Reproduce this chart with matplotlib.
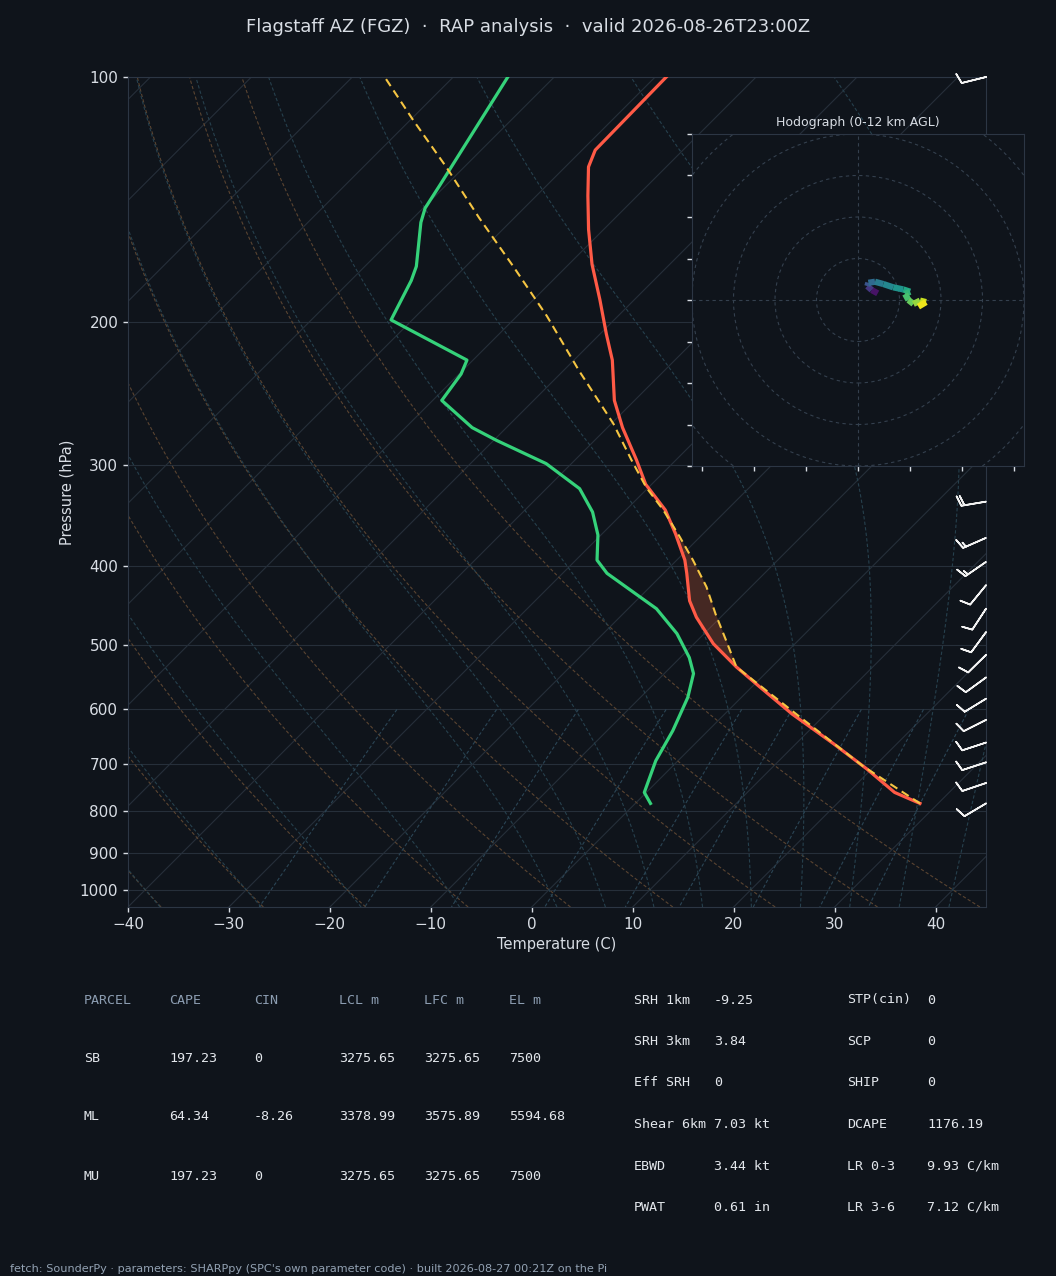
import matplotlib
matplotlib.use("Agg")

import matplotlib.pyplot as plt
import numpy as np
from matplotlib.collections import LineCollection
from matplotlib.ticker import NullLocator

plt.rcParams.update({"font.family": "DejaVu Sans", "font.size": 11})

BG = "#0f141b"
TXT = "#d8dde4"
DIM = "#8c9db1"
SPINE = "#2c3644"
GRID = "#262f3a"
DRY = "#5a4431"
MOIST = "#26404d"
MIXR = "#2b4555"
RED = "#ff5a46"
GREEN = "#35d27a"
YELLOW = "#f5c542"

W, H = 1056, 1276

# ---- sounding ----
temp_p = [783, 759, 710, 661, 608, 563, 532, 498, 462, 441, 408, 393, 365, 341,
          317, 296, 270, 250, 223, 207, 188, 170, 154, 140, 129, 123, 100]
temp_c = [28.2, 24.6, 19.5, 13.7, 6.7, 0.8, -3.5, -8.1, -12.4, -14.7, -17.7, -19.2,
          -22.7, -26.1, -30.6, -33.9, -38.5, -42.0, -46.2, -49.4, -53.4, -57.7,
          -61.5, -64.9, -67.7, -68.7, -68.9]

dewp_p = [783, 759, 694, 637, 580, 542, 518, 484, 451, 408, 393, 366, 343, 321,
          299, 280, 270, 250, 232, 223, 199, 178, 171, 151, 145, 136, 100]
dewp_c = [1.5, -0.2, -2.2, -3.5, -5.3, -7.1, -9.1, -12.7, -17.2, -25.6, -27.9, -30.3,
          -33.1, -36.7, -42.5, -49.7, -53.4, -59.1, -59.8, -60.6, -72.1, -74.0,
          -74.9, -78.8, -79.8, -80.6, -84.6]

parcel_p = [783, 704, 608, 532, 494, 458, 424, 393, 368, 341, 320, 296, 267, 230,
            197, 171, 149, 129, 113, 100]
parcel_c = [28.2, 18.8, 7.1, -3.5, -7.1, -10.8, -14.4, -18.4, -22.0, -26.3, -30.2,
            -34.4, -39.8, -48.4, -57.0, -65.3, -73.5, -81.8, -89.7, -96.8]

# wind barbs (kt)
barb_p = [100, 333, 369, 395, 422, 451, 482, 514, 548, 582, 618, 659, 697, 739, 783]
barb_u = [9.7, 19.7, 13.7, 12.3, 6.3, 5.5, 5.9, 7.1, 8.1, 8.5, 8.9, 9.5, 9.5, 9.5, 8.6]
barb_v = [2.4, 3.3, 6.0, 8.5, 7.7, 8.4, 8.0, 7.0, 5.9, 5.2, 4.5, 3.1, 3.1, 3.2, 5.1]

# hodograph (kt), coloured by height AGL (km)
hodo_u = [9.5, 6.6, 4.5, 5.0, 8.2, 12.2, 17.0, 21.8, 25.1, 22.7, 24.3, 26.7, 29.9, 32.8, 29.1]
hodo_v = [3.2, 4.8, 6.7, 8.3, 8.8, 7.7, 6.1, 5.1, 4.0, 2.9, 0.0, -1.9, -0.3, -1.0, -3.2]
hodo_km = [0, 1.2, 2.6, 3.6, 4.6, 5.3, 5.8, 6.6, 7.6, 8.2, 8.8, 9.6, 10.6, 11.4, 12]

title = "Flagstaff AZ (FGZ)  \u00b7  RAP analysis  \u00b7  valid 2026-08-26T23:00Z"
footer = ("fetch: SounderPy \u00b7 parameters: SHARPpy (SPC's own parameter code) "
          "\u00b7 built 2026-08-27 00:21Z on the Pi")

parcel_names = ["SB", "ML", "MU"]
cape = [197.23, 64.34, 197.23]
cin = [0, -8.26, 0]
lcl_m = [3275.65, 3378.99, 3275.65]
lfc_m = [3275.65, 3575.89, 3275.65]
el_m = [7500, 5594.68, 7500]
table_head = ["PARCEL", "CAPE", "CIN", "LCL m", "LFC m", "EL m"]

kin_labels = ["SRH 1km", "SRH 3km", "Eff SRH", "Shear 6km", "EBWD", "PWAT"]
kin_values = [-9.25, 3.84, 0, 7.03, 3.44, 0.61]
kin_units = ["", "", "", " kt", " kt", " in"]
idx_labels = ["STP(cin)", "SCP", "SHIP", "DCAPE", "LR 0-3", "LR 3-6"]
idx_values = [0, 0, 0, 1176.19, 9.93, 7.12]
idx_units = ["", "", "", "", " C/km", " C/km"]

p_ticks = [100, 200, 300, 400, 500, 600, 700, 800, 900, 1000]
t_ticks = list(range(-40, 41, 10))

# ---- skew-T frame ----
PBOT, PTOP = 1050, 100
TMIN, TMAX = -40, 45
AX_W, AX_H = 858, 830

fig = plt.figure(figsize=(W / 100, H / 100), dpi=100, facecolor=BG)
ax = fig.add_axes([128 / W, 1 - 907 / H, AX_W / W, AX_H / H], facecolor=BG)
ax.set_yscale("log")
ax.set_ylim(PBOT, PTOP)
ax.set_xlim(TMIN, TMAX)

# 45 degree skew in display space
SKEW = (AX_H / np.log10(PBOT / PTOP)) / (AX_W / (TMAX - TMIN))


def skew(t, p):
    return np.asarray(t, float) + SKEW * np.log10(PBOT / np.asarray(p, float))


def moist_adiabat(t0):
    def rate(t, p):
        es = 6.112 * np.exp(17.67 * (t - 273.15) / (t - 29.65))
        rs = 0.622 * es / (p - es)
        return (287.04 * t + 2.501e6 * rs) / (p * (1005.7 + 2.501e6 ** 2 * rs * 0.622 / (287.04 * t * t)))

    legs = []
    for end in (PBOT, PTOP):
        ps = np.linspace(1000.0, end, 300)
        t = t0 + 273.15
        ts = [t]
        for a, b in zip(ps[:-1], ps[1:]):
            h = b - a
            k1 = rate(t, a)
            k2 = rate(t + h * k1 / 2, a + h / 2)
            k3 = rate(t + h * k2 / 2, a + h / 2)
            k4 = rate(t + h * k3, b)
            t = t + h * (k1 + 2 * k2 + 2 * k3 + k4) / 6
            ts.append(t)
        legs.append((ps, np.array(ts)))
    p = np.concatenate([legs[0][0][::-1], legs[1][0][1:]])
    t = np.concatenate([legs[0][1][::-1], legs[1][1][1:]])
    return p, t - 273.15


pp = np.geomspace(PBOT, PTOP, 200)
for t0 in np.arange(-160, 41, 10):
    ax.plot(skew(np.full_like(pp, t0), pp), pp, color=GRID, lw=0.8, zorder=1)
for p0 in p_ticks:
    ax.axhline(p0, color=GRID, lw=0.8, zorder=1)

for t0 in np.arange(TMIN, TMAX + 1, 10):
    tk = (t0 + 273.15) * (pp / 1000.0) ** 0.2857 - 273.15
    ax.plot(skew(tk, pp), pp, color=DRY, lw=0.8, ls=(0, (3, 2)), zorder=1)

for t0 in np.concatenate([np.arange(TMIN, 0, 10), np.arange(0, TMAX + 1, 5)]):
    pm, tm = moist_adiabat(float(t0))
    ax.plot(skew(tm, pm), pm, color=MOIST, lw=0.8, ls=(0, (3, 2)), zorder=1)

pw = np.linspace(600, PBOT, 60)
for w in [0.0004, 0.001, 0.002, 0.004, 0.007, 0.01, 0.016, 0.024, 0.032]:
    e = pw * w / (0.622 + w)
    a = np.log(e / 6.112)
    td = 243.5 * a / (17.67 - a)
    ax.plot(skew(td, pw), pw, color=MIXR, lw=0.8, ls=(0, (3, 2)), zorder=1)

# CAPE shading between parcel and environment
pf = np.geomspace(540, 300, 300)
te = np.interp(np.log(pf), np.log(temp_p)[::-1], np.array(temp_c)[::-1])
tp = np.interp(np.log(pf), np.log(parcel_p)[::-1], np.array(parcel_c)[::-1])
ax.fill_betweenx(pf, skew(te, pf), skew(tp, pf), where=tp > te,
                 color="#e8643c", alpha=0.25, lw=0, zorder=2)

ax.plot(skew(temp_c, temp_p), temp_p, color=RED, lw=2.3, zorder=4)
ax.plot(skew(dewp_c, dewp_p), dewp_p, color=GREEN, lw=2.3, zorder=4)
ax.plot(skew(parcel_c, parcel_p), parcel_p, color=YELLOW, lw=1.5,
        ls=(0, (4, 2.5)), zorder=5)

ax.barbs(np.full(len(barb_p), TMAX), barb_p, barb_u, barb_v, length=6.0,
         color="#f2f2f2", linewidth=1.2, clip_on=False, zorder=6)

ax.set_yticks(p_ticks)
ax.set_yticklabels([str(p) for p in p_ticks])
ax.yaxis.set_minor_locator(NullLocator())
ax.set_xticks(t_ticks)
ax.tick_params(colors=TXT, labelsize=11, length=3.5, width=1)
ax.set_xlabel("Temperature (C)", color=TXT, fontsize=10.5)
ax.set_ylabel("Pressure (hPa)", color=TXT, fontsize=10.5)
for s in ax.spines.values():
    s.set_color(SPINE)

# ---- hodograph inset ----
hx = fig.add_axes([692 / W, 1 - 466 / H, 332 / W, 332 / H], facecolor=BG)
hx.set_xlim(-80, 80)
hx.set_ylim(-80, 80)
for r in range(20, 121, 20):
    hx.add_patch(plt.Circle((0, 0), r, fill=False, ec="#34404e", lw=0.8, ls=(0, (3, 3))))
hx.axhline(0, color="#34404e", lw=0.8, ls=(0, (3, 3)))
hx.axvline(0, color="#34404e", lw=0.8, ls=(0, (3, 3)))
pts = np.column_stack([hodo_u, hodo_v])
segs = np.stack([pts[:-1], pts[1:]], axis=1)
lc = LineCollection(segs, cmap="viridis", norm=plt.Normalize(0, 12), lw=4.5, zorder=3)
lc.set_array((np.array(hodo_km[:-1]) + np.array(hodo_km[1:])) / 2)
hx.add_collection(lc)
hx.set_xticks(np.arange(-75, 76, 25))
hx.set_yticks(np.arange(-80, 81, 20))
hx.tick_params(labelleft=False, labelbottom=False, colors=TXT, length=3.5, width=1)
hx.set_title("Hodograph (0-12 km AGL)", color=TXT, fontsize=9)
for s in hx.spines.values():
    s.set_color(SPINE)

# ---- title / tables / footer ----
fig.text(0.5, 1 - 27 / H, title, ha="center", va="center", fontsize=13, color=TXT)


def fmt(v):
    return f"{v:g}"


mono = dict(family="DejaVu Sans Mono", fontsize=9.6, va="center")
col_x = [84, 169, 254, 339, 424, 509]
for x, h in zip(col_x, table_head):
    fig.text(x / W, 1 - 1000 / H, h, color=DIM, **mono)
for i, name in enumerate(parcel_names):
    y = 1 - (1058 + i * 59) / H
    vals = [name, fmt(cape[i]), fmt(cin[i]), fmt(lcl_m[i]), fmt(lfc_m[i]), fmt(el_m[i])]
    for x, v in zip(col_x, vals):
        fig.text(x / W, y, v, color="#e3e7ec", **mono)

for i in range(len(kin_labels)):
    y = 1 - (1000 + i * 41.5) / H
    fig.text(634 / W, y, kin_labels[i], color="#e3e7ec", **mono)
    fig.text(714 / W, y, fmt(kin_values[i]) + kin_units[i], color="#e3e7ec", **mono)
    fig.text(847 / W, y, idx_labels[i], color="#e3e7ec", **mono)
    fig.text(927 / W, y, fmt(idx_values[i]) + idx_units[i], color="#e3e7ec", **mono)

fig.text(10 / W, 1 - 1269 / H, footer, ha="left", va="center", fontsize=8.15, color="#93a2b3")

fig.savefig("out.png", dpi=100, facecolor=BG)
